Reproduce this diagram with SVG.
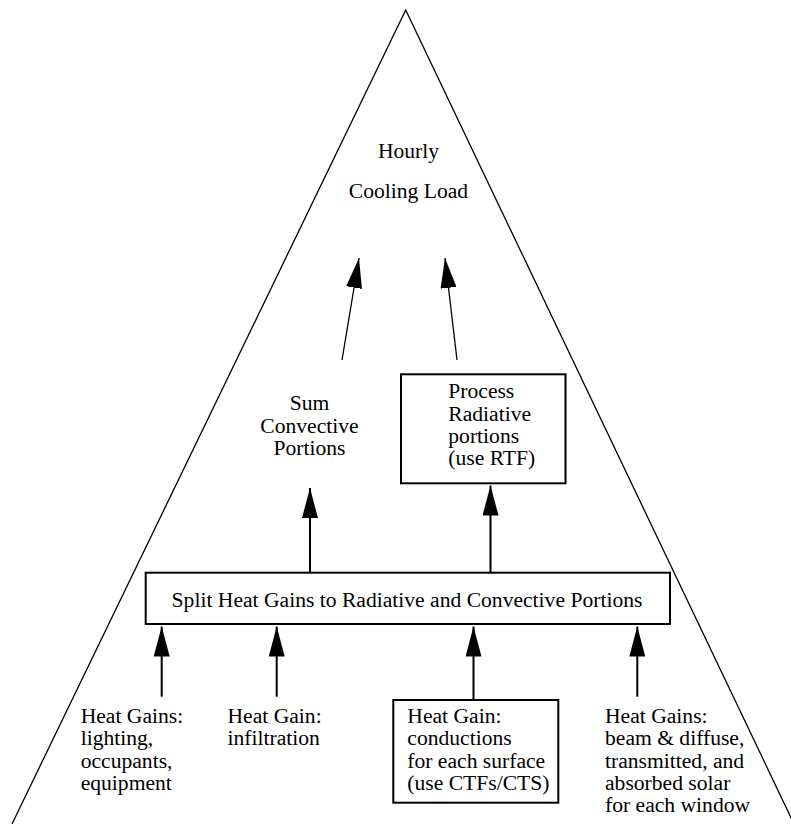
<svg xmlns="http://www.w3.org/2000/svg" width="791" height="824" viewBox="0 0 791 824">
<style>
text{font-family:"Liberation Serif","Times New Roman",serif;font-size:21.6px;fill:#000}
.c{text-anchor:middle}
.box{fill:none;stroke:#000;stroke-width:2}
.thin{fill:none;stroke:#000;stroke-width:1.3}
.thick{fill:none;stroke:#000;stroke-width:2}
</style>
<defs>
<marker id="ah" viewBox="0 0 30 16" markerWidth="30" markerHeight="16" refX="30" refY="8" orient="auto" markerUnits="userSpaceOnUse">
<path d="M0,0 L30,8 L0,16 z" fill="#000"/>
</marker>
</defs>
<rect width="791" height="824" fill="#fff"/>
<g id="pyramid">
<polyline class="thin" points="12,824 405.7,10 794,824"/>
</g>
<g id="cooling-load">
<text class="c" x="408.5" y="158">Hourly</text>
<text class="c" x="408.5" y="198">Cooling Load</text>
</g>
<g id="sum-convective">
<text class="c" x="309.5" y="409.5">Sum</text>
<text class="c" x="309.5" y="432.5">Convective</text>
<text class="c" x="309.5" y="455.3">Portions</text>
</g>
<g id="process-radiative">
<rect class="box" x="401" y="374.3" width="164.5" height="109"/>
<text x="448.3" y="398.3">Process</text>
<text x="448.3" y="420.6">Radiative</text>
<text x="448.3" y="443">portions</text>
<text x="448.3" y="465.3">(use RTF)</text>
</g>
<g id="split">
<rect class="box" x="145.7" y="572.7" width="524.3" height="51.3"/>
<text class="c" x="407" y="606.5">Split Heat Gains to Radiative and Convective Portions</text>
</g>
<g id="gains-internal">
<text x="80.7" y="723">Heat Gains:</text>
<text x="80.7" y="745.3">lighting,</text>
<text x="80.7" y="767.6">occupants,</text>
<text x="80.7" y="790">equipment</text>
</g>
<g id="gain-infiltration">
<text x="227.5" y="723">Heat Gain:</text>
<text x="227.5" y="745.3">infiltration</text>
</g>
<g id="gain-conduction">
<rect class="box" x="393.3" y="700" width="165" height="102.7"/>
<text x="407.3" y="723">Heat Gain:</text>
<text x="407.3" y="745.3">conductions</text>
<text x="407.3" y="767.6">for each surface</text>
<text x="407.3" y="790">(use CTFs/CTS)</text>
</g>
<g id="gains-solar">
<text x="605" y="723">Heat Gains:</text>
<text x="605" y="745.3">beam &amp; diffuse,</text>
<text x="605" y="767.6">transmitted, and</text>
<text x="605" y="790">absorbed solar</text>
<text x="605" y="812.3">for each window</text>
</g>
<g id="connectors">
<line class="thin" x1="342" y1="360" x2="359" y2="258" marker-end="url(#ah)"/>
<line class="thin" x1="457" y1="360" x2="445" y2="258" marker-end="url(#ah)"/>
<line class="thick" x1="310" y1="572.7" x2="310" y2="488" marker-end="url(#ah)"/>
<line class="thick" x1="490.5" y1="572.7" x2="490.5" y2="485.5" marker-end="url(#ah)"/>
<line class="thick" x1="161.7" y1="696.7" x2="161.7" y2="626.5" marker-end="url(#ah)"/>
<line class="thick" x1="276.7" y1="696.7" x2="276.7" y2="626.5" marker-end="url(#ah)"/>
<line class="thick" x1="473.5" y1="700" x2="473.5" y2="626.5" marker-end="url(#ah)"/>
<line class="thick" x1="637.3" y1="696.7" x2="637.3" y2="626.5" marker-end="url(#ah)"/>
</g>
</svg>
